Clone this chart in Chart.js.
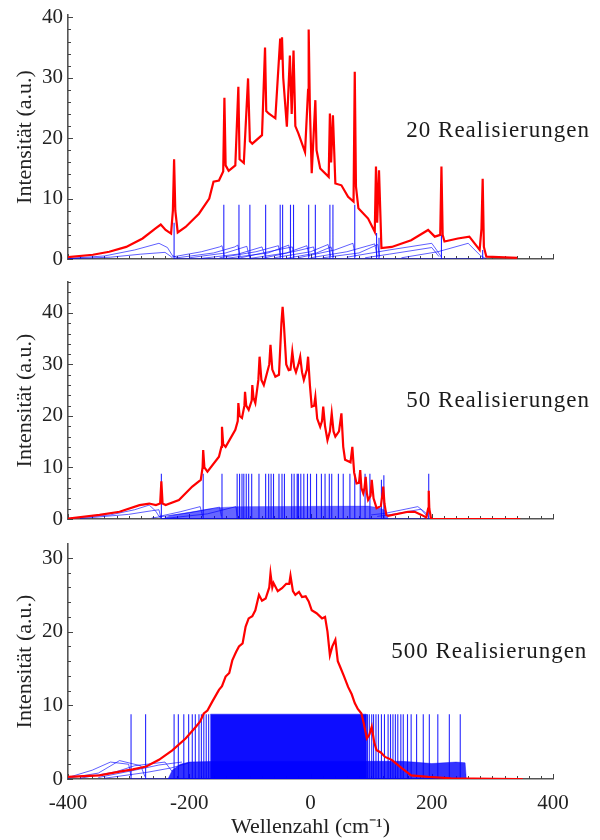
<!DOCTYPE html>
<html lang="de">
<head>
<meta charset="utf-8">
<title>Realisierungen</title>
<script src="https://cdn.jsdelivr.net/npm/chart.js@4.4.1/dist/chart.umd.min.js"></script>
<style>
  html, body { margin: 0; padding: 0; background: #fff; }
  #wrap { position: relative; width: 600px; height: 840px; }
  #wrap canvas { position: absolute; left: 0; }
</style>
</head>
<body>
<div id="wrap">
  <canvas id="c20" width="600" height="270" style="top:0"></canvas>
  <canvas id="c50" width="600" height="260" style="top:270px"></canvas>
  <canvas id="c500" width="600" height="310" style="top:530px"></canvas>
</div>
<script>
// --- axes ---
const xTicks = [-400, -200, 0, 200, 400];
const xMinorStep = 20;
const yMinorStep = 2;
const yTicks20 = [0, 10, 20, 30, 40];
const yTicks50 = [0, 10, 20, 30, 40];
const yTicks500 = [0, 10, 20, 30];

// --- 20 Realisierungen ---
const red20 = [[-400,0.3],[-359,0.7],[-332,1.2],[-304,2.0],[-277,3.4],[-255,5.1],[-247,5.7],[-239,4.8],[-230,4.2],
  [-227,8],[-225,16.5],[-223,8],[-219,4.4],[-206,5.3],[-184,7.5],[-167,10.0],[-160,12.8],[-151,13.0],[-144,14.5],
  [-142,26.7],[-140,15.5],[-135,14.6],[-124,15.5],[-119,28.5],[-117,16.5],[-110,15.9],[-103,29.9],[-100,19.5],
  [-96,19.1],[-80,20.5],[-75,35],[-73,24.5],[-69,24.1],[-58,23.3],[-50,36.5],[-48.5,33],[-47,36.7],[-45,30],
  [-39,21.9],[-34,33.7],[-31,24],[-28,34.5],[-25,22],[-20,20.8],[-9,17.7],[-4,28],[-3,38.0],[-1,25],[2,14.2],
  [8,26.3],[10,18],[16,15],[30,13.6],[32,24.1],[34,16],[37,23.8],[41,12.5],[51,12.2],[62,10.3],[71,9.5],
  [73,31.0],[75,12],[79,8.4],[95,6.7],[106,4.5],[108,15.3],[110,6],[113,14.7],[117,1.8],[134,2.0],[166,3.1],
  [194,4.8],[205,3.7],[214,4],[216,15.3],[218,4],[221,2.9],[243,3.4],[262,3.7],[279,1.5],[282,5],[284,13.3],
  [286,2],[290,0.4],[341,0.2]];
const spikes20 = [[-225,6],[-143,9],[-118,9],[-100,9],[-74,9],[-50,9],[-46,9],[-33,9],[-28,9],[-3,9],[8,9],
  [32,9],[37,9],[73,9],[109,4.3],[113,3.5],[216,4],[284,1.5]];
const humps20 = [
  [[-400,0.1],[-340,0.5],[-290,1.5],[-250,2.6],[-236,1.9],[-228,0.6],[-220,0.2]],
  [[-400,0.05],[-330,0.3],[-280,0.8],[-240,1.1],[-230,0.4]],
  [[-230,0.3],[-180,1.2],[-150,2.0],[-146,2.2],[-142,0.4]],
  [[-220,0.2],[-160,1.0],[-125,2.0],[-120,2.3],[-116,0.5]],
  [[-200,0.2],[-140,1.0],[-105,2.1],[-101,0.4]],
  [[-180,0.1],[-120,0.8],[-80,2.0],[-75,0.5]],
  [[-150,0.2],[-90,1.2],[-53,2.2],[-49,0.4]],
  [[-140,0.1],[-70,1.0],[-36,2.3],[-32,0.5]],
  [[-120,0.1],[-60,1.4],[-30,2.0],[-27,0.3]],
  [[-100,0.1],[-40,1.0],[-6,2.2],[-2,0.4]],
  [[-80,0.1],[-20,1.4],[5,2.0],[9,0.3]],
  [[-60,0.2],[0,1.2],[29,2.4],[33,0.5]],
  [[-40,0.1],[10,1.0],[34,2.0],[38,0.3]],
  [[-20,0.2],[40,1.5],[70,2.6],[74,0.4]],
  [[0,0.2],[60,1.2],[106,2.5],[110,0.4]],
  [[20,0.2],[80,1.0],[111,2.4],[114,0.4]],
  [[60,0.3],[130,1.5],[200,2.6],[210,1.2],[216,0.3]],
  [[90,0.2],[130,0.8],[200,1.9],[212,0.4]],
  [[150,0.2],[210,1.2],[260,2.6],[280,0.6],[290,0]]
];

// --- 50 Realisierungen ---
const red50 = [[-400,0.1],[-348,0.8],[-315,1.4],[-282,2.7],[-266,3.0],[-255,2.7],[-248,3],[-246,7.3],[-244,3],
  [-239,2.7],[-217,3.7],[-195,6.3],[-181,7.6],[-178,10],[-177,13.4],[-175,10],[-170,9.2],[-151,12.1],[-147,14],
  [-146,17.9],[-144,14.5],[-140,14.0],[-124,17.3],[-120,19],[-119,22.5],[-117,20],[-113,19.6],[-109,22],
  [-108,24.7],[-106,22],[-102,21.2],[-97,23],[-96,26.0],[-94,23.5],[-91,22.5],[-86,27],[-84,31.5],[-81,27],
  [-77,26.0],[-68,30],[-66,33.8],[-63,29],[-58,27.6],[-52,28],[-48,38],[-46,41.2],[-44,38.0],[-40,30],
  [-36,28.9],[-33,29],[-30,32.5],[-27,29.5],[-24,28.5],[-20,30],[-17,31.5],[-14,28.5],[-11,27.0],[-6,29],
  [-4,31.5],[-1,26],[2,21.8],[6,22],[8,23.7],[11,19.5],[16,17.9],[19,19],[21,21.8],[24,18],[28,15.3],[32,17],
  [35,20.5],[38,17],[41,16.0],[47,17],[51,20.5],[54,14],[57,11.5],[66,11],[69,14.0],[72,9],[76,6.9],[80,7],
  [82,9.5],[84,6],[87,5.0],[89,6],[91,8.2],[93,5],[95,3.7],[99,4.5],[101,7.6],[104,4],[109,2.1],[116,2.5],
  [119,5],[120,6.3],[122,3],[125,0.8],[128,0.6],[161,1.4],[172,1.4],[183,0.8],[191,0.3],[194,2],[195,5.5],
  [196,2],[199,0],[346,0]];
const spikes50 = [[-246,8.8],[-177,8.8],[-146,8.8],[-121,8.8],[-117,8.8],[-113,8.8],[-110,8.8],[-106,8.8],
  [-102,8.8],[-97,8.8],[-85,8.8],[-74,8.8],[-69,8.8],[-65,8.8],[-61,8.8],[-52,8.8],[-47,8.8],[-43,8.8],
  [-31,8.8],[-27,8.8],[-22,8.8],[-20,8.8],[-16,8.8],[-11,8.8],[-5,8.8],[0,8.8],[10,8.8],[18,8.8],[24,8.8],
  [31,8.8],[35,8.8],[46,8.8],[54,8.8],[65,8.8],[73,8.8],[82,8.8],[90,8.8],[98,8.8],[117,7.6],[121,8.5],[195,8.8]];
const humps50 = [
  [[-400,0.1],[-330,0.8],[-290,1.8],[-266,2.7],[-255,1.5],[-250,0.5],[-246,0.2]],
  [[-380,0.1],[-300,0.9],[-262,1.6],[-250,1.8],[-247,0.3]],
  [[-250,0.5],[-215,1.4],[-182,2.4],[-178,0.5]],
  [[-262,0.2],[-200,1.2],[-150,2.3],[-147,0.5]],
  [[-240,0.1],[-170,1.0],[-123,2.4],[-121,0.6]],
  [[100,0.8],[123,1.1],[177,2.4],[190,1.2],[195,0.3]],
  [[110,0.5],[140,1.0],[182,1.9],[192,0.6]]
];
const band50 = [[-245,0],[-230,0.7],[-200,1.3],[-170,1.9],[-150,2.2],[-120,2.4],[95,2.5],[112,2.2],[125,1.6],[128,0]];

// --- 500 Realisierungen ---
const red500 = [[-400,0.3],[-348,0.5],[-315,1.0],[-293,1.3],[-271,1.7],[-250,2.6],[-228,3.9],[-206,5.5],
  [-189,7.1],[-182,7.8],[-176,8.9],[-170,9.3],[-162,10.5],[-151,12.1],[-146,12.6],[-140,13.9],[-134,14.4],
  [-129,16.1],[-123,17.2],[-118,18.0],[-112,18.4],[-107,20.7],[-102,21.8],[-96,22.1],[-91,22.9],[-85,25.0],
  [-80,24.2],[-74,24.5],[-68,26],[-66,27.9],[-63,26],[-61,26.6],[-54,25.5],[-47,25.9],[-40,26.5],[-35,26.5],
  [-33,27.6],[-29,25.5],[-25,25.0],[-19,25.4],[-14,24.7],[-8,24.8],[-3,24.1],[2,22.9],[10,22.5],[19,21.8],
  [24,22.0],[28,20],[32,16.8],[36,18],[41,18.9],[45,16],[49,15.2],[55,14],[62,12.5],[68,11.5],[73,10.3],
  [78,9.5],[84,8.9],[88,7.5],[93,5.5],[97,6],[101,7.1],[105,5],[109,3.9],[116,3.6],[123,3.0],[134,2.6],
  [140,2.2],[150,1.5],[166,0.5],[194,0.3],[232,0.1],[341,0],[350,0]];
const spikes500 = [[-296,8.8],[-272,8.8],[-225,8.8],[-218,8.8],[-209,8.8],[-201,8.8],[-195,8.8],[-190,8.8],
  [-184,8.8],[-180,8.8],[-176,8.8],[-172,8.8],[-168,8.8],[94,8.8],[97,8.8],[101,8.8],[104,8.8],[108,8.8],
  [112,8.8],[117,8.8],[122,8.8],[128,8.8],[132,8.8],[136,8.8],[140,8.8],[144,8.8],[149,8.8],[153,8.8],
  [160,8.8],[166,8.8],[175,8.8],[186,8.8],[196,8.8],[210,8.8],[229,8.8],[247,8.8]];
const humps500 = [
  [[-400,0.2],[-360,1.2],[-330,2.3],[-300,2.0],[-296,0.4]],
  [[-400,0.1],[-350,0.8],[-315,2.5],[-280,1.8],[-273,0.3]],
  [[-380,0.1],[-320,1.0],[-290,1.8],[-240,2.3],[-228,1.0]],
  [[-350,0.2],[-290,1.2],[-250,1.9],[-212,2.3]],
  [[-340,0.1],[-270,0.9],[-230,1.5],[-200,2.2]]
];
const band500 = [[-235,0],[-228,1.2],[-215,2.0],[-200,2.3],[-150,2.4],[150,2.4],[170,2.3],[200,2.1],[240,2.3],
  [255,2.2],[257,0]];
const block500 = [[-165,0],[-165,8.8],[92,8.8],[92,0]];

const SERIF = '"Liberation Serif", "Times New Roman", serif';

function pts(arr) { return arr.map(([x, y]) => ({ x, y })); }
function spikePts(list) {
  return list.flatMap(([p, h]) => [{ x: p, y: 0 }, { x: p, y: h }, { x: p, y: 0 }]);
}

// small ticks pointing into the plot, like the original
const innerTicks = {
  id: 'innerTicks',
  beforeDatasetsDraw(chart) {
    const { ctx, chartArea: a, scales: { x, y } } = chart;
    ctx.save();
    ctx.strokeStyle = '#444';
    ctx.lineWidth = 1;
    ctx.beginPath();
    for (let v = x.min; v <= x.max; v += xMinorStep) {
      const px = Math.round(x.getPixelForValue(v)) + 0.5;
      const len = v % 200 === 0 ? 5 : 3;
      ctx.moveTo(px, a.bottom);
      ctx.lineTo(px, a.bottom - len);
    }
    for (let v = 0; v <= y.max; v += yMinorStep) {
      const py = Math.round(y.getPixelForValue(v)) + 0.5;
      const len = v % 10 === 0 ? 5 : 3;
      ctx.moveTo(a.left, py);
      ctx.lineTo(a.left + len, py);
    }
    ctx.stroke();
    ctx.restore();
  }
};

const realLabel = {
  id: 'realLabel',
  afterDatasetsDraw(chart, args, opts) {
    if (!opts.text) return;
    const { ctx, scales: { x, y } } = chart;
    ctx.save();
    ctx.font = '23px ' + SERIF;
    ctx.letterSpacing = '1px';
    ctx.fillStyle = '#1a1a1a';
    ctx.textBaseline = 'alphabetic';
    ctx.fillText(opts.text, x.getPixelForValue(opts.x), y.getPixelForValue(opts.y));
    ctx.restore();
  }
};

function makePanel(id, o) {
  const datasets = [
    { data: pts(o.red), borderColor: '#ff0000', borderWidth: 2.2 },
    { data: spikePts(o.spikes), borderColor: 'rgba(0,0,255,0.85)', borderWidth: 1.1 },
    ...o.humps.map(h => ({ data: pts(h), borderColor: 'rgba(0,0,255,0.7)', borderWidth: 0.9 })),
    ...(o.fills || []).map(f => ({
      data: pts(f.data), borderColor: f.color, backgroundColor: f.color, borderWidth: 0.5, fill: 'origin'
    }))
  ];

  return new Chart(document.getElementById(id), {
    type: 'scatter',
    data: { datasets },
    options: {
      responsive: false,
      animation: false,
      devicePixelRatio: 1,
      showLine: true,
      elements: { point: { radius: 0 }, line: { tension: 0 } },
      layout: { padding: { top: o.padTop, right: 47, left: 0, bottom: 0 } },
      plugins: {
        legend: { display: false },
        tooltip: { enabled: false },
        realLabel: o.label
      },
      scales: {
        x: {
          type: 'linear', min: -400, max: 400,
          afterBuildTicks: s => { s.ticks = xTicks.map(v => ({ value: v })); },
          afterFit: s => { s.height = o.xHeight; s.paddingLeft = 0; s.paddingRight = 0; },
          ticks: { display: o.xLabels, font: { family: SERIF, size: 21 }, color: '#222', padding: 12, maxRotation: 0 },
          grid: { drawOnChartArea: false, drawTicks: false },
          border: { display: true, color: '#555', width: 1.6 },
          title: {
            display: o.xLabels, text: 'Wellenzahl (cm⁻¹)', color: '#222',
            font: { family: SERIF, size: 22 }, padding: 0
          }
        },
        y: {
          type: 'linear', min: 0, max: o.yMax,
          afterBuildTicks: s => { s.ticks = o.yTicks.map(v => ({ value: v })); },
          afterFit: s => { s.width = 68; s.paddingTop = 0; s.paddingBottom = 0; },
          ticks: { font: { family: SERIF, size: 21 }, color: '#222', padding: 5 },
          grid: { drawOnChartArea: false, drawTicks: false },
          border: { display: true, color: '#555', width: 1.6 },
          title: {
            display: true, text: 'Intensität (a.u.)', color: '#222',
            font: { family: SERIF, size: 22 }, padding: { top: 12, bottom: 0 }
          }
        }
      }
    },
    plugins: [innerTicks, realLabel]
  });
}

makePanel('c20', {
  red: red20, spikes: spikes20, humps: humps20,
  yTicks: yTicks20, yMax: 40.4, padTop: 15, xHeight: 11, xLabels: false,
  label: { text: '20 Realisierungen', x: 158, y: 20.2 }
});

makePanel('c50', {
  red: red50, spikes: spikes50, humps: humps50,
  fills: [{ data: band50, color: 'rgba(0,0,255,0.6)' }],
  yTicks: yTicks50, yMax: 46, padTop: 12, xHeight: 11, xLabels: false,
  label: { text: '50 Realisierungen', x: 158, y: 21.7 }
});

makePanel('c500', {
  red: red500, spikes: spikes500, humps: humps500,
  fills: [{ data: band500, color: 'rgba(0,0,255,0.8)' }, { data: block500, color: 'rgba(0,0,255,0.95)' }],
  yTicks: yTicks500, yMax: 31.9, padTop: 14, xHeight: 61, xLabels: true,
  label: { text: '500 Realisierungen', x: 133, y: 16.4 }
});
</script>
</body>
</html>
